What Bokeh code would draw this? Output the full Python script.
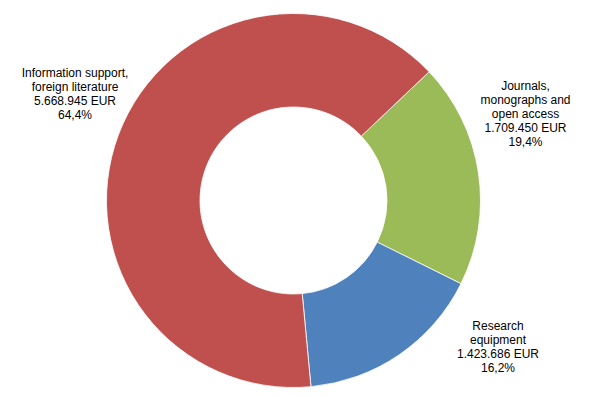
import math
from bokeh.plotting import figure
from bokeh.models import Range1d, ColumnDataSource
from bokeh.core.properties import value
from bokeh.embed import file_html
from bokeh.resources import INLINE

categories = ["Journals, monographs and open access", "Research equipment", "Information support, foreign literature"]
amounts = [1709450, 1423686, 5668945]
amount_labels = ["1.709.450 EUR", "1.423.686 EUR", "5.668.945 EUR"]
pct_labels = ["19,4%", "16,2%", "64,4%"]
label_lines = [["Journals,", "monographs and", "open access"], ["Research", "equipment"], ["Information support,", "foreign literature"]]
colors = ["#9BBB59", "#4F81BD", "#C0504D"]

W, H = 577, 388
p = figure(width=W, height=H, output_backend="svg", toolbar_location=None,
           x_range=Range1d(0, W), y_range=Range1d(396 - H, 396), min_border=0)
p.axis.visible = False
p.grid.visible = False
p.outline_line_color = None
p.background_fill_color = "white"
p.border_fill_color = "white"

cx, cy = 293, 396 - 200
r_out, r_in = 187, 93.5
start_from_top = 46.5  # degrees clockwise from 12 o'clock

total = sum(amounts)
starts, ends = [], []
acc = 0.0
for a in amounts:
    s = math.radians(90 - start_from_top - 360 * acc / total)
    acc += a
    e = math.radians(90 - start_from_top - 360 * acc / total)
    starts.append(s)
    ends.append(e)

src = ColumnDataSource(dict(start=starts, end=ends, color=colors))
p.annular_wedge(x=cx, y=cy, inner_radius=r_in, outer_radius=r_out,
                start_angle="start", end_angle="end", direction="clock",
                fill_color="color", line_color="white", line_width=0.8, source=src)

texts = ["\n".join(label_lines[i] + [amount_labels[i], pct_labels[i]]) for i in range(3)]
lx = [525, 497.5, 74.5]
ly = [396 - 113.5, 396 - 346.5, 396 - 93]
p.text(x=lx, y=ly, text=texts, text_align="center", text_baseline="middle",
       text_font=value("Liberation Sans"), text_font_size="12px", text_color="black",
       text_line_height=1.0)

open("out.html", "w").write(file_html(p, INLINE))
